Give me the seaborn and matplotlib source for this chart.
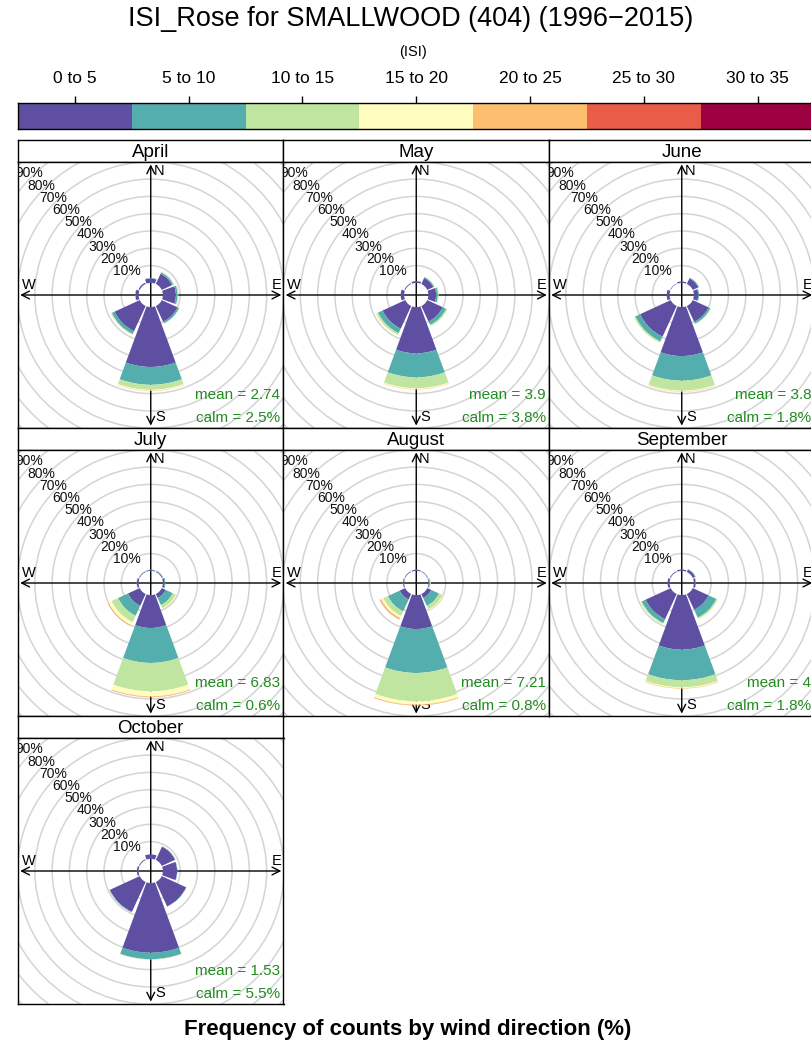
import numpy as np
import matplotlib
matplotlib.use("Agg")
import matplotlib.pyplot as plt
from matplotlib.patches import Wedge, Circle
import seaborn as sns

sns.set_theme(style="white")
plt.rcParams['font.family'] = ['Liberation Sans', 'DejaVu Sans']
plt.rcParams['text.color'] = 'black'
plt.rcParams['xtick.color'] = 'black'

# data, % of counts per direction, stacked by ISI class
isi_bins = ["0 to 5", "5 to 10", "10 to 15", "15 to 20", "20 to 25", "25 to 30", "30 to 35"]
dir_angles = [0, 45, 90, 135, 180, 225, 270, 315]  # N NE E SE S SW W NW
months = ["April", "May", "June", "July", "August", "September", "October"]

april = [[2.5, 0.3], [6.5, 0.9, 0.4], [7.5, 1.0, 0.5], [10.0, 1.0, 0.3],
         [34.6, 10.3, 2.9, 0.5, 0.2], [16.0, 1.8, 0.5, 0.2], [1.8, 0.2], [0.8]]
may = [[1.0], [3.8, 0.6, 0.2], [4.5, 1.0, 0.5], [9.8, 2.2, 0.8, 0.2],
       [26.7, 13.9, 6.3, 0.5, 0.2], [14.4, 2.9, 1.0, 0.3, 0.1], [2.0], [0.5]]
june = [[0.8], [3.5, 0.5], [2.5, 0.5], [10.0, 1.2, 0.3],
        [28.3, 14.2, 5.8, 0.5, 0.2], [19.5, 3.0, 0.8, 0.3], [1.7], [0.3]]
july = [[0.5, 0.2], [0.5, 0.3], [1.0, 0.5], [2.5, 4.5, 2.0, 0.6, 0.2],
        [19.0, 20.2, 16.4, 2.9, 0.4, 0.1], [7.5, 6.3, 4.1, 2.0, 0.4, 0.1], [1.0, 0.2], [0.4, 0.1]]
august = [[0.6, 0.2], [0.3, 0.2], [0.4, 0.5, 0.4, 0.2], [2.5, 5.0, 2.2, 0.6, 0.3],
          [19.6, 25.4, 16.4, 1.9, 0.4, 0.1], [3.5, 7.5, 3.0, 1.2, 0.8, 0.2], [0.6, 0.2], [0.4, 0.1]]
september = [[0.8], [1.5, 0.3], [1.0, 0.2], [10.0, 5.0, 0.8, 0.3],
             [31.5, 17.7, 4.1, 0.5, 0.3], [16.0, 2.5, 0.6, 0.3], [1.2], [0.5]]
october = [[2.6], [8.5, 0.2], [8.2, 0.2], [15.5, 0.2],
           [40.2, 3.8, 0.2], [19.0, 0.3], [1.0], [0.5]]

month_freq = [april, may, june, july, august, september, october]
month_mean = ["2.74", "3.9", "3.8", "6.83", "7.21", "4", "1.53"]
month_calm = ["2.5", "3.8", "1.8", "0.6", "0.8", "1.8", "5.5"]
ring_levels = [10, 20, 30, 40, 50, 60, 70, 80, 90]

cmap = sns.color_palette("Spectral_r", as_cmap=True)
colors = [cmap(v) for v in np.linspace(0, 1, len(isi_bins))]

W, H = 812, 1054
fig = plt.figure(figsize=(W / 100, H / 100), dpi=100)


def rect(x0, y0, w, h):
    return [x0 / W, 1 - (y0 + h) / H, w / W, h / H]


# title and colour key
fig.text(411 / W, 1 - 19 / H, "ISI_Rose for SMALLWOOD (404) (1996\u22122015)",
         ha="center", va="center", fontsize=19.5)
fig.text(413 / W, 1 - 52 / H, "(ISI)", ha="center", va="center", fontsize=10.5)

cax = fig.add_axes(rect(18, 103, 796.5, 26))
cax.bar(range(len(isi_bins)), [1] * len(isi_bins), width=1.0, color=colors, linewidth=0)
cax.set_xlim(-0.5, len(isi_bins) - 0.5)
cax.set_ylim(0, 1)
cax.set_yticks([])
cax.set_xticks(range(len(isi_bins)))
cax.set_xticklabels(isi_bins, fontsize=12.5)
cax.xaxis.set_ticks_position("top")
cax.xaxis.set_label_position("top")
cax.tick_params(axis="x", direction="out", length=5, width=1, color="black", pad=7, top=True, bottom=False)
for s in cax.spines.values():
    s.set_color("black")
    s.set_linewidth(1)

# rose panels
px = 1.73          # pixels per percent
offset = 7.0       # empty hole in the middle (percent units)
half_w = 265.5 / 2 / px
half_h = 133 / px
seg = 0.9 * 45 / 2

for i, name in enumerate(months):
    row, col = divmod(i, 3)
    x0 = 18 + col * 265.5
    y0 = 140 + row * 288

    sax = fig.add_axes(rect(x0, y0, 265.5, 22))
    sax.set_xticks([])
    sax.set_yticks([])
    sax.set_facecolor("white")
    sax.text(0.5, 0.45, name, ha="center", va="center", fontsize=13.5, transform=sax.transAxes)
    for s in sax.spines.values():
        s.set_color("black")
        s.set_linewidth(1)

    ax = fig.add_axes(rect(x0, y0 + 22, 265.5, 266))
    ax.set_xlim(-half_w, half_w)
    ax.set_ylim(-half_h, half_h)
    ax.set_xticks([])
    ax.set_yticks([])
    ax.set_facecolor("white")
    for s in ax.spines.values():
        s.set_color("black")
        s.set_linewidth(1)

    for lev in range(10, 120, 10):
        ax.add_patch(Circle((0, 0), offset + lev, fill=False, ec="#d4d4d4", lw=1.1, zorder=1))
    for lev in ring_levels:
        r = offset + lev + 2.5
        ax.text(r * np.cos(np.radians(135)), r * np.sin(np.radians(135)), f"{lev}%",
                ha="center", va="center", fontsize=10, color="#111111", zorder=4, clip_on=True)

    L = 75.5
    ax.annotate("", xy=(-L, 0), xytext=(L, 0),
                arrowprops=dict(arrowstyle="<->", lw=1, color="black", shrinkA=0, shrinkB=0,
                                mutation_scale=14), zorder=2)
    ax.annotate("", xy=(0, L), xytext=(0, -L),
                arrowprops=dict(arrowstyle="<->", lw=1, color="black", shrinkA=0, shrinkB=0,
                                mutation_scale=14), zorder=2)
    ax.text(1.5, 71.5, "N", ha="left", va="center", fontsize=10.5, zorder=2)
    ax.text(2.5, -70.5, "S", ha="left", va="center", fontsize=10.5, zorder=2)
    ax.text(-70.5, 5.5, "W", ha="center", va="center", fontsize=10.5, zorder=2)
    ax.text(72.5, 5.5, "E", ha="center", va="center", fontsize=10.5, zorder=2)

    for d, vals in zip(dir_angles, month_freq[i]):
        inner = offset
        for k, v in enumerate(vals):
            outer = inner + v
            ax.add_patch(Wedge((0, 0), outer, 90 - d - seg, 90 - d + seg, width=v,
                               facecolor=colors[k], edgecolor="none", zorder=3))
            inner = outer

    ax.text(1 - 3 / 265.5, 33 / 266, f"mean = {month_mean[i]}", ha="right", va="center",
            fontsize=11, color="forestgreen", transform=ax.transAxes, zorder=5)
    ax.text(1 - 3 / 265.5, 10 / 266, f"calm = {month_calm[i]}%", ha="right", va="center",
            fontsize=11, color="forestgreen", transform=ax.transAxes, zorder=5)

fig.text(408 / W, 1 - 1030 / H, "Frequency of counts by wind direction (%)",
         ha="center", va="center", fontsize=16, fontweight="bold")

fig.savefig("out.png", dpi=100, facecolor="white")
